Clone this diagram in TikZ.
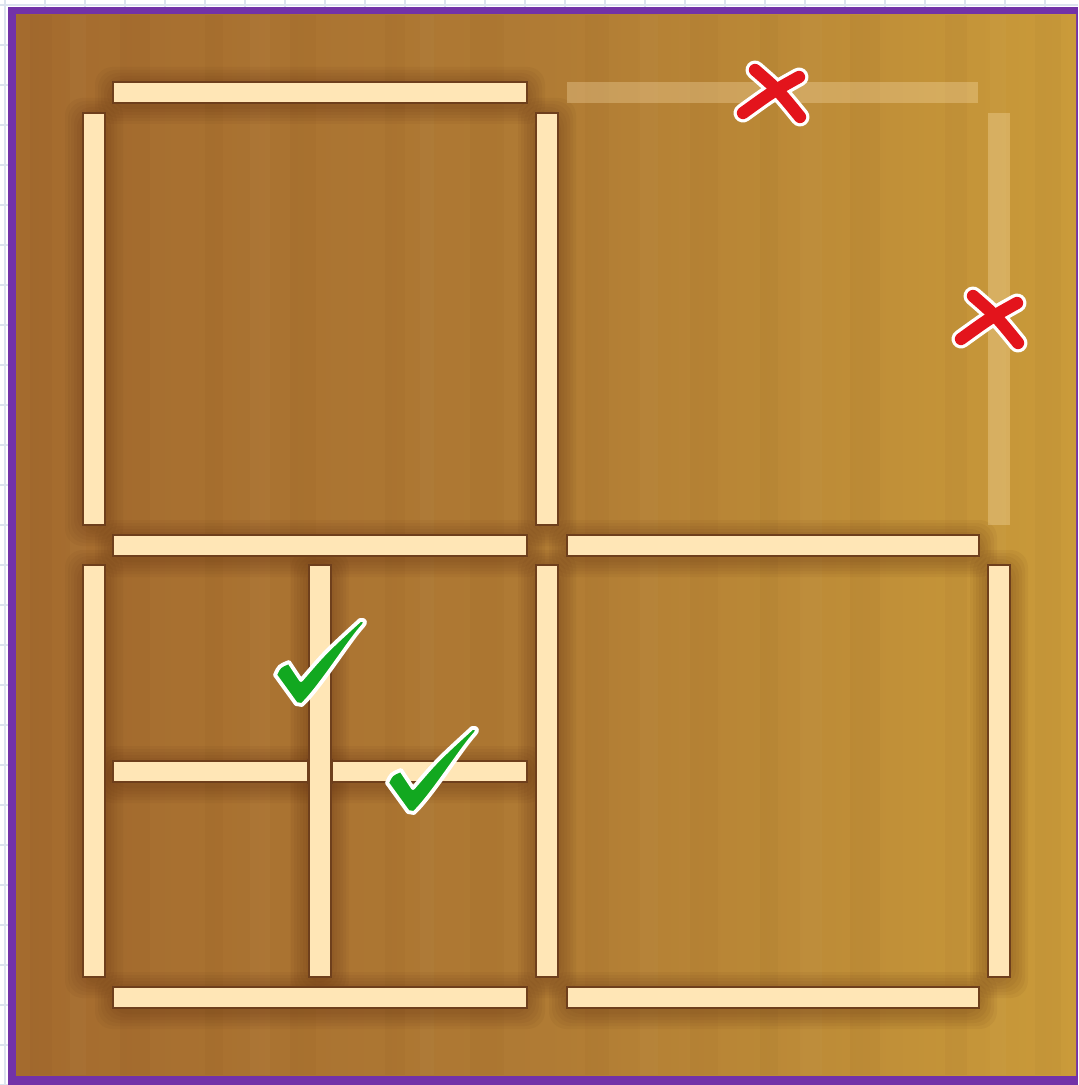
\documentclass[tikz,border=0pt]{standalone}
\definecolor{woodL}{HTML}{A46B2E}
\definecolor{woodM}{HTML}{B07B34}
\definecolor{woodR}{HTML}{CA9B3A}
\definecolor{stickc}{HTML}{FFE6B6}
\definecolor{stickedge}{HTML}{6E3F1C}
\definecolor{shadowc}{HTML}{5A2A10}
\definecolor{framec}{HTML}{7232A8}
\definecolor{gridc}{HTML}{DCE3EE}
\definecolor{xred}{HTML}{E3141C}
\definecolor{okgreen}{HTML}{12A820}
\tikzset{
  stickbody/.style={fill=stickc, draw=stickedge, line width=0.45pt},
  ghoststick/.style={fill=stickc, opacity=0.3},
  glow/.style={fill=shadowc, opacity=0.06, rounded corners=5pt},
  xwhite/.style={draw=white, line width=5.4pt, line cap=round},
  xstroke/.style={draw=xred, line width=3.5pt, line cap=round},
  checkmark/.style={fill=okgreen, draw=white, line width=1.1pt, line join=round}
}
\newcommand\myglow[4]{%
  \foreach \k in {18,15,12,9,6,3}{\fill[glow] (#1-\k,#2-\k+3) rectangle (#1+#3+\k,#2+#4+\k+3);}}
\newcommand\mystick[4]{\path[stickbody] (#1,#2) rectangle (#1+#3,#2+#4);}
\begin{document}
\begin{tikzpicture}[x=0.01cm,y=-0.01cm]
\useasboundingbox (0,0) rectangle (1078,1085);
\fill[white] (0,0) rectangle (1078,1085);
\foreach \g in {5,45,...,1085}{\draw[gridc, line width=0.3pt] (\g,0) -- (\g,1085); \draw[gridc, line width=0.3pt] (0,\g) -- (1078,\g);}
% frame and board
\fill[framec] (8,7) rectangle (1078,1085);
\shade[left color=woodL, right color=woodR, middle color=woodM] (16,15) rectangle (1076,1075);
% wood grain
\foreach \gx/\w in {30/22,120/30,205/18,290/26,385/20,470/34,585/24,690/28,760/18,850/30,945/22,1035/26}{
  \fill[shadowc, opacity=0.03] (\gx,15) rectangle (\gx+\w,1075);}
\foreach \gx/\w in {70/16,250/20,420/14,640/18,800/22,990/16}{
  \fill[white, opacity=0.025] (\gx,15) rectangle (\gx+\w,1075);}
% shadows
\foreach \x/\y/\w in {113/82/414,113/535/414,567/535/412,113/987/414,567/987/412,113/761/414}{\myglow{\x}{\y}{\w}{21}}
\foreach \x/\y in {83/113,83/565,536/113,536/565,988/565,309/565}{\myglow{\x}{\y}{22}{412}}
% ghost sticks (removed)
\fill[ghoststick] (567,82) rectangle (978,103);
\fill[ghoststick] (988,113) rectangle (1010,525);
% sticks
\foreach \x/\y/\w in {113/82/414,113/535/414,567/535/412,113/987/414,567/987/412,113/761/414}{\mystick{\x}{\y}{\w}{21}}
\foreach \x/\y in {83/113,83/565,536/113,536/565,988/565}{\mystick{\x}{\y}{22}{412}}
\draw[stickedge, line width=1.2pt] (309,759) -- (309,784) (331,759) -- (331,784);
\mystick{309}{565}{22}{412}
% red crosses
\foreach \ox/\oy in {0/0,218/226}{
  \begin{scope}[shift={(\ox,\oy)}]
    \draw[xwhite] (755,70) .. controls (778,90) .. (800,117);
    \draw[xwhite] (799,77) .. controls (772,92) .. (743,113);
    \draw[xstroke] (755,70) .. controls (778,90) .. (800,117);
    \draw[xstroke] (799,77) .. controls (772,92) .. (743,113);
  \end{scope}}
% green ticks
\foreach \ox/\oy in {0/0,112/108}{
  \path[checkmark, shift={(\ox,\oy)}] (275,675) .. controls (279,666) .. (289,662) -- (301,680) .. controls (325,652) .. (360,620) .. controls (366,619) and (366,623) .. (363,626) .. controls (350,640) and (320,688) .. (302,705) -- (296,704) -- cycle;}
\end{tikzpicture}
\end{document}
